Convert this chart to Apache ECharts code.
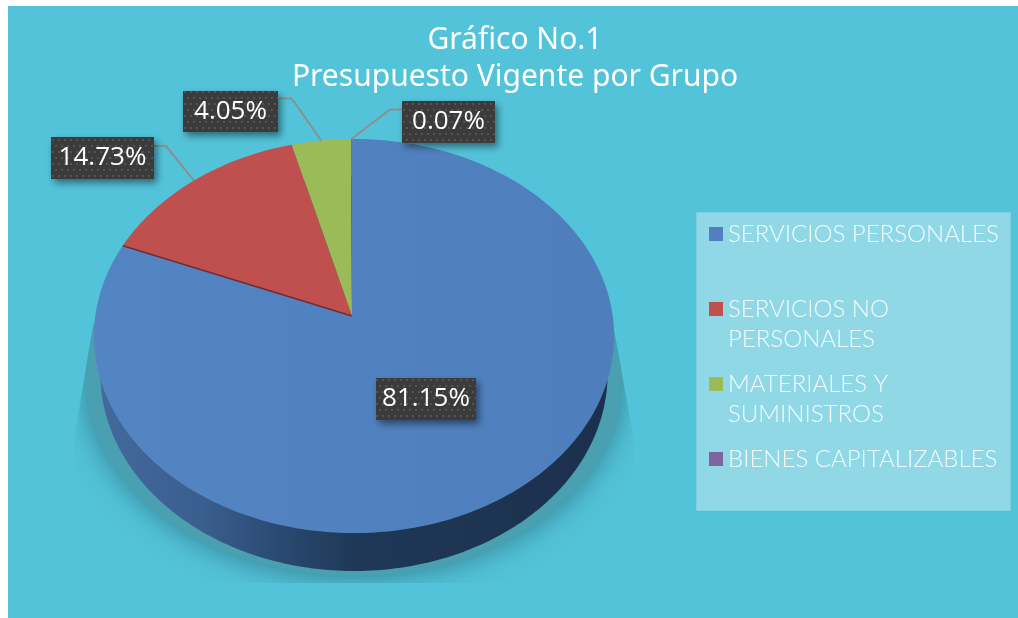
<!DOCTYPE html>
<html>
    <head>
        <meta charset='utf-8'>
        <script src='https://cdn.jsdelivr.net/npm/echarts@6/dist/echarts.min.js'></script>
    </head>
    <body>
        <style>
            html, body { margin: 0; height: 100%; background: #fff; overflow: hidden; }
            #bg { position: absolute; left: 8px; top: 6px; right: 0; bottom: 0; background: #53c3d9; }
            #main { position: absolute; left: 0; top: 0; width: 1018px; height: 618px; }
        </style>
        <div id='bg'></div>
        <div id='main'></div>
        <script>
            var categories = ['SERVICIOS PERSONALES', 'SERVICIOS NO PERSONALES', 'MATERIALES Y SUMINISTROS', 'BIENES CAPITALIZABLES'];
            // blank first line so the swatch sits next to the first real line
            var legendLines = [' \nSERVICIOS PERSONALES\n ', ' \nSERVICIOS NO\nPERSONALES', ' \nMATERIALES Y\nSUMINISTROS', ' \nBIENES CAPITALIZABLES\n '];
            var values = [81.15, 14.73, 4.05, 0.07];
            var labels = ['81.15%', '14.73%', '4.05%', '0.07%'];
            var colors = ['#5080bf', '#c0504d', '#9bbb59', '#8064a2'];

            // label boxes [x, y, w, h] and the elbow of each leader line
            var boxes = [[376, 378, 100, 42], [51, 137, 103, 42], [183, 91, 95, 41], [402, 101, 93, 42]];
            var elbows = [null, [[166, 146], [154, 146]], [[295, 103], [291, 98.5], [278, 98.5]], [[390, 109.5], [402, 109.5]]];

            // perspective of the tilted disc, fitted on the picture
            var apex = [352, 316];
            var radiusX = 258.7, radiusY = 195, tilt = 0.1015, tiltSide = 0.0077, depth = 38, bottomScale = 0.975;
            var total = values.reduce(function (a, b) { return a + b; }, 0);

            function project(share) {
                var t = share / total * Math.PI * 2;
                var w = 1 + tilt * Math.cos(t) - tiltSide * Math.sin(t);
                return [apex[0] + radiusX * Math.sin(t) / w, apex[1] - radiusY * Math.cos(t) / w];
            }
            function rim(from, to) {
                var pts = [];
                var n = Math.max(2, Math.ceil((to - from) / total * 360));
                for (var k = 0; k <= n; k++) {
                    pts.push(project(from + (to - from) * k / n));
                }
                return pts;
            }
            function lowerRim(scale, drop) {
                return rim(0, total).map(function (p) {
                    return [apex[0] + (p[0] - apex[0]) * scale, p[1] + depth + drop];
                });
            }

            // small tile for the dotted label background
            var tile = document.createElement('canvas');
            tile.width = 12;
            tile.height = 12;
            var ctx = tile.getContext('2d');
            ctx.fillStyle = '#3b3b3b';
            ctx.fillRect(0, 0, 12, 12);
            ctx.fillStyle = '#545454';
            ctx.fillRect(1, 1, 2, 2);
            ctx.fillRect(7, 1, 2, 2);
            ctx.fillRect(4, 7, 2, 2);
            ctx.fillRect(10, 7, 2, 2);

            function sideParts() {
                return [
                    {
                        type: 'polygon',
                        clipPath: {
                            type: 'polygon',
                            shape: { points: [[120, 300], [93, 325], [74, 440], [74, 583], [634, 583], [634, 440], [613, 325], [585, 300]] }
                        },
                        shape: { points: lowerRim(1.03, 5) },
                        style: { fill: '#4a9fb1', shadowBlur: 30, shadowColor: 'rgba(50,125,140,1)' }
                    },
                    {
                        type: 'polygon',
                        shape: { points: lowerRim(bottomScale, 0) },
                        style: {
                            fill: {
                                type: 'linear', x: 0, y: 0, x2: 1, y2: 0,
                                colorStops: [
                                    { offset: 0, color: '#44699c' },
                                    { offset: 0.2, color: '#3a5e8e' },
                                    { offset: 0.35, color: '#2a4a72' },
                                    { offset: 0.5, color: '#1f3857' },
                                    { offset: 1, color: '#1b304d' }
                                ]
                            }
                        }
                    }
                ];
            }

            function sliceItem(i, start) {
                return function (params, api) {
                    var value = api.value(0);
                    var end = start + value;
                    var children = i === 0 ? sideParts() : [];
                    children.push({
                        type: 'polygon',
                        shape: { points: [apex].concat(rim(start, end)) },
                        style: {
                            // the big blue face is a touch lighter on the left
                            fill: i === 0 ? {
                                type: 'linear', x: 0, y: 0, x2: 1, y2: 0,
                                colorStops: [
                                    { offset: 0, color: '#5485c3' },
                                    { offset: 1, color: '#4e7ebc' }
                                ]
                            } : api.visual('color')
                        }
                    });
                    if (i === 1) {
                        // dark edge of the red wedge against the blue one
                        children.push({
                            type: 'line',
                            shape: { x1: apex[0], y1: apex[1], x2: project(start)[0], y2: project(start)[1] },
                            style: { stroke: '#6d2e33', lineWidth: 1.5 }
                        });
                    }
                    if (elbows[i]) {
                        children.push({
                            type: 'polyline',
                            shape: { points: [project(start + value / 2)].concat(elbows[i]) },
                            style: { stroke: '#8b8f90', lineWidth: 2, fill: 'none' }
                        });
                    }
                    var b = boxes[i];
                    children.push({
                        type: 'rect',
                        shape: { x: b[0], y: b[1], width: b[2], height: b[3] },
                        style: {
                            fill: { image: tile, repeat: 'repeat' },
                            shadowBlur: 7,
                            shadowOffsetX: 3,
                            shadowOffsetY: 4,
                            shadowColor: 'rgba(0,0,0,0.45)'
                        }
                    });
                    children.push({
                        type: 'text',
                        style: {
                            x: b[0] + b[2] / 2,
                            y: b[1] + b[3] / 2,
                            text: labels[i],
                            fill: '#fff',
                            font: '26px "Open Sans"',
                            align: 'center',
                            verticalAlign: 'middle'
                        }
                    });
                    return { type: 'group', children: children };
                };
            }

            var series = [];
            var running = 0;
            for (var i = 0; i < values.length; i++) {
                series.push({
                    name: categories[i],
                    type: 'custom',
                    coordinateSystem: 'none',
                    silent: true,
                    animation: false,
                    itemStyle: { color: colors[i] },
                    data: [[values[i]]],
                    renderItem: sliceItem(i, running)
                });
                running += values[i];
            }

            var chart = echarts.init(document.getElementById('main'));
            chart.setOption({
                animation: false,
                title: {
                    text: 'Gráfico No.1\nPresupuesto Vigente por Grupo',
                    left: 510,
                    top: 17,
                    textAlign: 'center',
                    textStyle: {
                        color: '#fff',
                        fontFamily: 'Noto Sans',
                        fontSize: 30,
                        fontWeight: 'normal',
                        lineHeight: 37
                    }
                },
                graphic: [{
                    type: 'rect',
                    silent: true,
                    shape: { x: 696, y: 212, width: 315, height: 299 },
                    style: { fill: 'rgba(255,255,255,0.36)', stroke: 'rgba(83,195,217,0.6)', lineWidth: 1 }
                }],
                legend: {
                    orient: 'vertical',
                    left: 709,
                    top: 189,
                    padding: 0,
                    selectedMode: false,
                    data: categories,
                    itemWidth: 14,
                    itemHeight: 14,
                    itemGap: -15,
                    icon: 'rect',
                    formatter: function (name) {
                        return legendLines[categories.indexOf(name)];
                    },
                    textStyle: {
                        color: '#f2fbfd',
                        fontFamily: 'Lato',
                        fontWeight: 300,
                        fontSize: 24,
                        lineHeight: 30
                    }
                },
                series: series
            });
        </script>
    </body>
</html>
